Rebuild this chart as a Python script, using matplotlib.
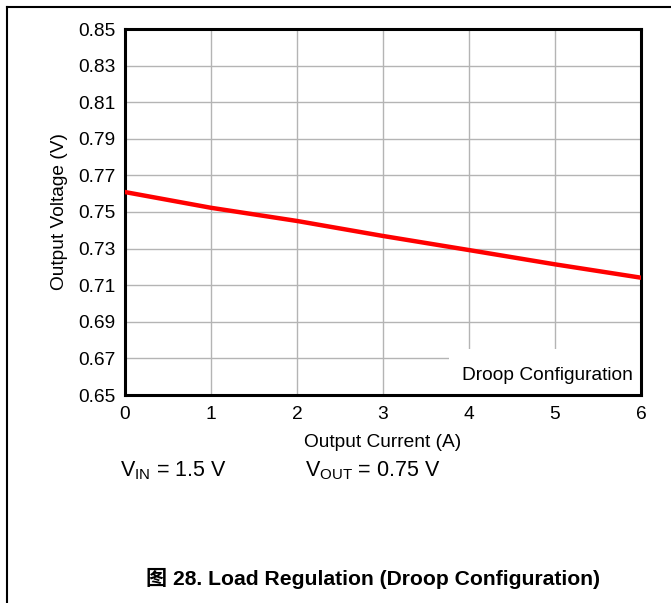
import matplotlib
matplotlib.use("Agg")
import matplotlib.pyplot as plt
from matplotlib.lines import Line2D
from matplotlib.patches import Rectangle

plt.rcParams['font.family'] = ['Liberation Sans', 'Noto Sans CJK SC', 'DejaVu Sans']
plt.rcParams['mathtext.fontset'] = 'custom'
plt.rcParams['mathtext.rm'] = 'Liberation Sans'

current_a = [0, 1, 2, 3, 4, 5, 6]
voltage_v = [0.7609, 0.7523, 0.7451, 0.7369, 0.7292, 0.7214, 0.7141]
x_ticks = [0, 1, 2, 3, 4, 5, 6]
y_ticks = [0.65, 0.67, 0.69, 0.71, 0.73, 0.75, 0.77, 0.79, 0.81, 0.83, 0.85]

W, H = 671, 603
fig = plt.figure(figsize=(W / 100, H / 100), dpi=100)
ax = fig.add_axes([125 / W, 1 - 395 / H, (641 - 125) / W, (395 - 29) / H])

FS = 13.8
ax.set_xlim(0, 6)
ax.set_ylim(0.65, 0.85)
ax.set_xticks(x_ticks)
ax.set_yticks(y_ticks)
ax.set_xticklabels([str(v) for v in x_ticks], fontsize=FS)
ax.set_yticklabels([f"{v:.2f}" for v in y_ticks], fontsize=FS)
ax.tick_params(axis='y', length=0, pad=7)
ax.tick_params(axis='x', length=0, pad=8)
ax.grid(True, color='#b4b4b4', linewidth=1.0)
ax.set_axisbelow(True)
for s in ax.spines.values():
    s.set_linewidth(2.2)
    s.set_color('black')

ax.plot(current_a, voltage_v, color='#ff0000', linewidth=3.2, zorder=3)

# label box masking the grid
ax.add_patch(Rectangle((3.77, 0.65), 2.23, 0.0253, transform=ax.transData,
                       facecolor='white', edgecolor='none', zorder=2))
ax.text(5.9, 0.6608, 'Droop Configuration', ha='right', va='center',
        fontsize=FS, zorder=4)

ax.set_xlabel('Output Current (A)', fontsize=FS, labelpad=7.5)
ax.set_ylabel('Output Voltage (V)', fontsize=FS, labelpad=7)

fig.text(120 / W, 1 - 471 / H, r'V$_{\mathregular{IN}}$ = 1.5 V', fontsize=15.5, va='center')
fig.text(305 / W, 1 - 471 / H, r'V$_{\mathregular{OUT}}$ = 0.75 V', fontsize=15.5, va='center')

fig.text(373 / W, 1 - 578 / H, '图 28. Load Regulation (Droop Configuration)',
         fontsize=15.2, fontweight='bold', ha='center', va='center')

# outer frame (top and left)
fig.add_artist(Line2D([7 / W, 1], [1 - 7 / H, 1 - 7 / H], color='black', linewidth=1.5,
                      transform=fig.transFigure))
fig.add_artist(Line2D([7 / W, 7 / W], [0, 1 - 7 / H], color='black', linewidth=1.5,
                      transform=fig.transFigure))

fig.savefig('out.png', dpi=100)
